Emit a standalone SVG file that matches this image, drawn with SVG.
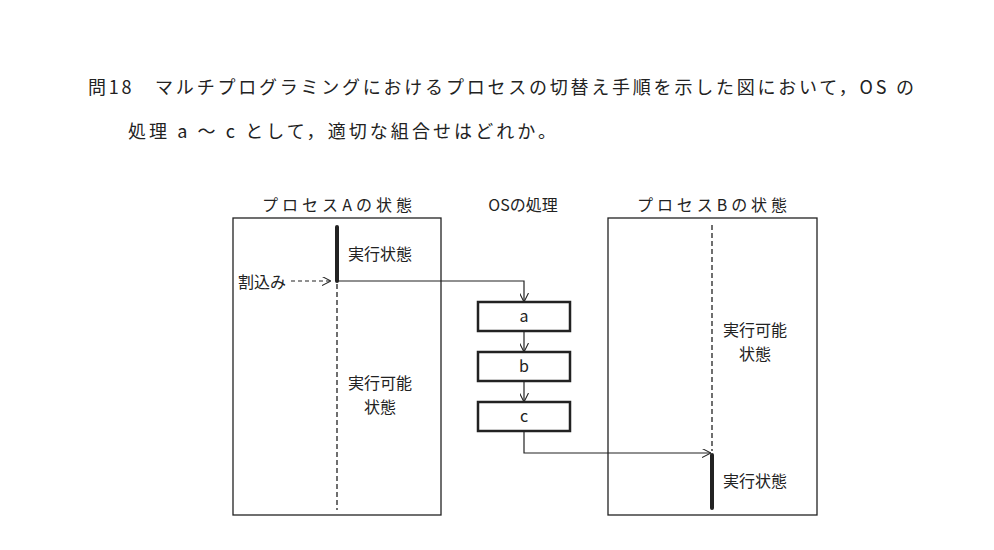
<svg xmlns="http://www.w3.org/2000/svg" width="994" height="550" viewBox="0 0 994 550">
<style>
text{font-family:"Noto Sans CJK JP","Liberation Serif",serif;fill:#222}
.t{font-size:18px}
.l{font-size:16px}
.frame{fill:none;stroke:#222;stroke-width:1.3}
.box{fill:#fff;stroke:#222;stroke-width:2.5}
.thick{stroke:#222;stroke-width:4;stroke-linecap:round}
.dash{stroke:#222;stroke-width:1.3;stroke-dasharray:5,3}
.con{fill:none;stroke:#222;stroke-width:1.2;marker-end:url(#ah)}
</style>
<defs><marker id="ah" viewBox="0 0 10 10" refX="10" refY="5" markerWidth="9" markerHeight="9" orient="auto" markerUnits="userSpaceOnUse"><path d="M0,0 L10,5 L0,10" fill="none" stroke="#222" stroke-width="1.2"/></marker></defs>
<rect width="994" height="550" fill="#fff"/>
<text class="t" x="88" y="94" textLength="826" lengthAdjust="spacing">問18　マルチプログラミングにおけるプロセスの切替え手順を示した図において，OS の</text>
<text class="t" x="128" y="138" textLength="428" lengthAdjust="spacing">処理 a ～ c として，適切な組合せはどれか。</text>
<g id="processA">
<text class="l" x="337" y="211" text-anchor="middle" textLength="150" lengthAdjust="spacing">プロセスAの状態</text>
<rect class="frame" x="233" y="218" width="208" height="297"/>
<line class="thick" x1="337" y1="227" x2="337" y2="281"/>
<line class="dash" x1="337" y1="284" x2="337" y2="510"/>
<text class="l" x="348" y="260">実行状態</text>
<text class="l" x="348" y="389">実行可能</text>
<text class="l" x="364" y="413">状態</text>
<text class="l" x="238" y="288">割込み</text>
</g>
<g id="os">
<text class="l" x="523" y="211" text-anchor="middle">OSの処理</text>
<g id="a"><rect class="box" x="478" y="302" width="92" height="29"/><text class="l" x="524" y="322" text-anchor="middle">a</text></g>
<g id="b"><rect class="box" x="478" y="352" width="92" height="29"/><text class="l" x="524" y="372" text-anchor="middle">b</text></g>
<g id="c"><rect class="box" x="478" y="402" width="92" height="29"/><text class="l" x="524" y="422" text-anchor="middle">c</text></g>
</g>
<g id="processB">
<text class="l" x="712" y="211" text-anchor="middle" textLength="150" lengthAdjust="spacing">プロセスBの状態</text>
<rect class="frame" x="608" y="218" width="209" height="297"/>
<line class="dash" x1="712" y1="225" x2="712" y2="451"/>
<line class="thick" x1="712" y1="455" x2="712" y2="508"/>
<text class="l" x="723" y="336">実行可能</text>
<text class="l" x="739" y="360">状態</text>
<text class="l" x="723" y="487">実行状態</text>
</g>
<g id="connectors">
<path class="con" d="M291,281 L331,281" stroke-dasharray="4,3"/>
<path class="con" d="M337,281 L524,281 L524,302"/>
<path class="con" d="M524,331 L524,352"/>
<path class="con" d="M524,381 L524,402"/>
<path class="con" d="M524,431 L524,453 L711,453"/>
</g>
</svg>
